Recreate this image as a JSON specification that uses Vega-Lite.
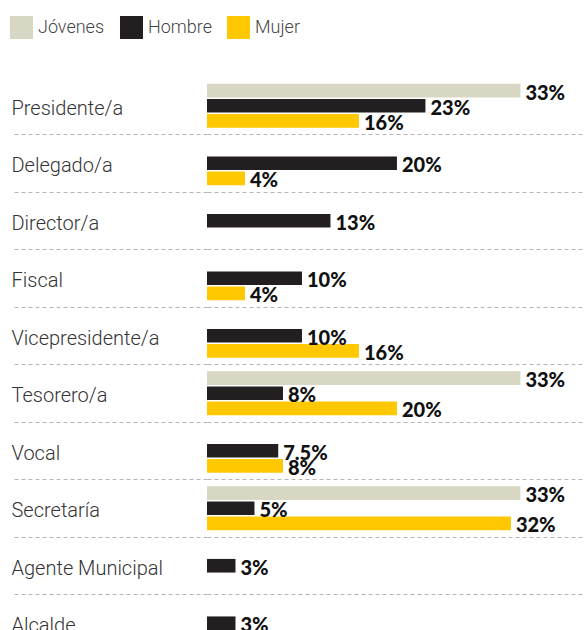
{
  "$schema": "https://vega.github.io/schema/vega-lite/v6.json",
  "autosize": {"type": "none"},
  "padding": {"left": 207, "top": 77, "right": 0, "bottom": 0},
  "width": 378,
  "height": 575,
  "background": "white",
  "config": {"view": {"stroke": null}},
  "data": {"values": [
    {"cargo": "Presidente/a", "grupo": "Jóvenes", "valor": 0.33},
    {"cargo": "Presidente/a", "grupo": "Hombre", "valor": 0.23},
    {"cargo": "Presidente/a", "grupo": "Mujer", "valor": 0.16},
    {"cargo": "Delegado/a", "grupo": "Hombre", "valor": 0.20},
    {"cargo": "Delegado/a", "grupo": "Mujer", "valor": 0.04},
    {"cargo": "Director/a", "grupo": "Hombre", "valor": 0.13},
    {"cargo": "Fiscal", "grupo": "Hombre", "valor": 0.10},
    {"cargo": "Fiscal", "grupo": "Mujer", "valor": 0.04},
    {"cargo": "Vicepresidente/a", "grupo": "Hombre", "valor": 0.10},
    {"cargo": "Vicepresidente/a", "grupo": "Mujer", "valor": 0.16},
    {"cargo": "Tesorero/a", "grupo": "Jóvenes", "valor": 0.33},
    {"cargo": "Tesorero/a", "grupo": "Hombre", "valor": 0.08},
    {"cargo": "Tesorero/a", "grupo": "Mujer", "valor": 0.20},
    {"cargo": "Vocal", "grupo": "Hombre", "valor": 0.075},
    {"cargo": "Vocal", "grupo": "Mujer", "valor": 0.08},
    {"cargo": "Secretaría", "grupo": "Jóvenes", "valor": 0.33},
    {"cargo": "Secretaría", "grupo": "Hombre", "valor": 0.05},
    {"cargo": "Secretaría", "grupo": "Mujer", "valor": 0.32},
    {"cargo": "Agente Municipal", "grupo": "Hombre", "valor": 0.03},
    {"cargo": "Alcalde", "grupo": "Hombre", "valor": 0.03}
  ]},
  "encoding": {
    "y": {
      "field": "cargo", "type": "nominal", "sort": null,
      "scale": {"paddingInner": 0, "paddingOuter": 0},
      "axis": {
        "title": null, "domain": false,
        "ticks": true, "tickSize": 196, "tickColor": "#b5b5b5", "tickDash": [4, 3], "tickWidth": 1,
        "grid": true, "gridColor": "#b5b5b5", "gridDash": [4, 3], "gridWidth": 1,
        "bandPosition": 1, "tickExtra": false,
        "labelAlign": "left", "labelPadding": 0, "labelBaseline": "middle", "labelOffset": 3,
        "labelFont": "Roboto", "labelFontWeight": 300, "labelFontSize": 20, "labelColor": "#333333",
        "labelLimit": 400
      }
    },
    "yOffset": {
      "field": "grupo", "type": "nominal",
      "scale": {"domain": ["Jóvenes", "Hombre", "Mujer"], "paddingInner": 0.1, "paddingOuter": 0.45}
    },
    "x": {
      "field": "valor", "type": "quantitative",
      "scale": {"domain": [0, 0.398], "nice": false, "zero": true},
      "axis": null
    }
  },
  "layer": [
    {
      "mark": {"type": "bar"},
      "encoding": {
        "color": {
          "field": "grupo", "type": "nominal",
          "scale": {"domain": ["Jóvenes", "Hombre", "Mujer"], "range": ["#d8d7c3", "#231f20", "#ffc800"]},
          "legend": {
            "title": null, "orient": "none", "legendX": -197, "legendY": -61,
            "direction": "horizontal", "symbolType": "square", "symbolSize": 529,
            "symbolStrokeWidth": 0, "symbolOpacity": 1,
            "labelFont": "Roboto", "labelFontWeight": 300, "labelFontSize": 18, "labelColor": "#444444",
            "labelOffset": 5, "columnPadding": 15
          }
        }
      }
    },
    {
      "mark": {"type": "text", "align": "left", "baseline": "middle", "dx": 5, "dy": 3,
               "font": "Lato", "fontWeight": 900, "fontSize": 20, "color": "#111111"},
      "encoding": {
        "text": {"field": "valor", "type": "quantitative", "format": "~%"}
      }
    }
  ]
}
